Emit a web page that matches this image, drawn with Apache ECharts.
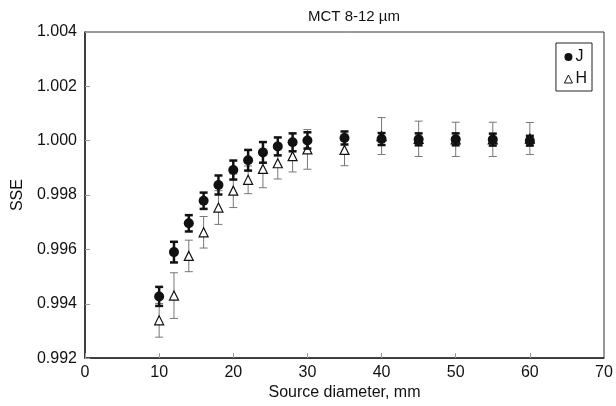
<!DOCTYPE html>
<html>
<head>
<meta charset="utf-8">
<script src="https://cdn.jsdelivr.net/npm/echarts@6/dist/echarts.min.js"></script>
<style>
html, body { margin: 0; padding: 0; background: #fff; }
#chart { width: 616px; height: 406px; }
</style>
</head>
<body>
<div id="chart"></div>
<script>
// source diameters, mm
var diameters = [10, 12, 14, 16, 18, 20, 22, 24, 26, 28, 30, 35, 40, 45, 50, 55, 60];
// J points and their errors
var sseJ = [0.99427, 0.99590, 0.99696, 0.99779, 0.99837, 0.99892, 0.99928, 0.99957, 0.99979, 0.99994, 1.00001,
            1.00010, 1.00006, 1.00005, 1.00005, 1.00004, 1.00000];
var errJ = [0.00035, 0.00038, 0.00030, 0.00030, 0.00035, 0.00035, 0.00038, 0.00038, 0.00033, 0.00033, 0.00030,
            0.00024, 0.00022, 0.00022, 0.00022, 0.00022, 0.00018];
// H points and their errors
var sseH = [0.99339, 0.99430, 0.99576, 0.99663, 0.99754, 0.99816, 0.99856, 0.99896, 0.99917, 0.99943, 0.99968,
            0.99966, 1.00017, 1.00007, 1.00005, 1.00005, 1.00008];
var errH = [0.00062, 0.00084, 0.00058, 0.00058, 0.00062, 0.00062, 0.00051, 0.00069, 0.00058, 0.00058, 0.00073,
            0.00058, 0.00068, 0.00065, 0.00063, 0.00063, 0.00059];
var yTicks = [0.992, 0.994, 0.996, 0.998, 1.000, 1.002, 1.004];

function rows(ys, errs) {
  return diameters.map(function (d, i) { return [d, ys[i], errs[i]]; });
}

function errorBar(color, width, cap) {
  return function (params, api) {
    var x = api.value(0), y = api.value(1), e = api.value(2);
    var hi = api.coord([x, y + e]);
    var lo = api.coord([x, y - e]);
    var st = { stroke: color, lineWidth: width };
    return {
      type: 'group',
      children: [
        { type: 'line', shape: { x1: hi[0], y1: hi[1], x2: lo[0], y2: lo[1] }, style: st },
        { type: 'line', shape: { x1: hi[0] - cap, y1: hi[1], x2: hi[0] + cap, y2: hi[1] }, style: st },
        { type: 'line', shape: { x1: lo[0] - cap, y1: lo[1], x2: lo[0] + cap, y2: lo[1] }, style: st }
      ]
    };
  };
}

var chart = echarts.init(document.getElementById('chart'));
var font = 'Liberation Sans, Arial, sans-serif';
chart.setOption({
  animation: false,
  backgroundColor: '#fff',
  textStyle: { fontFamily: font },
  title: {
    text: 'MCT 8-12 µm',
    left: 303, top: 4,
    textStyle: { fontSize: 15, fontWeight: 'normal', color: '#111', fontFamily: font }
  },
  legend: {
    orient: 'vertical',
    right: 24, top: 43,
    borderColor: '#222', borderWidth: 1,
    padding: [6, 5, 4, 8],
    itemGap: 6,
    itemWidth: 8, itemHeight: 8,
    textStyle: { fontSize: 16, color: '#111', fontFamily: font, padding: [0, 0, 0, -2] },
    data: [
      { name: 'J', icon: 'circle', itemStyle: { color: '#111' } },
      { name: 'H', icon: 'triangle', itemStyle: { color: '#fff', borderColor: '#111', borderWidth: 1 } }
    ]
  },
  grid: {
    left: 85, right: 12, top: 32, bottom: 44,
    show: true, borderColor: '#333', borderWidth: 1
  },
  xAxis: {
    type: 'value', min: 0, max: 70, interval: 10,
    name: 'Source diameter, mm', nameLocation: 'middle', nameGap: 26,
    nameTextStyle: { fontSize: 16, color: '#111', fontFamily: font },
    axisLine: { lineStyle: { color: '#222', width: 1.5 } },
    axisTick: { inside: true, length: 5, lineStyle: { color: '#999' } },
    axisLabel: { fontSize: 16, color: '#111', margin: 6, fontFamily: font },
    splitLine: { show: false }
  },
  yAxis: {
    type: 'value', min: yTicks[0], max: yTicks[yTicks.length - 1], interval: 0.002,
    name: 'SSE', nameLocation: 'middle', nameGap: 57,
    nameTextStyle: { fontSize: 16, color: '#111', fontFamily: font },
    axisLine: { lineStyle: { color: '#222', width: 1.5 } },
    axisTick: { inside: true, length: 5, lineStyle: { color: '#999' } },
    axisLabel: {
      fontSize: 16, color: '#111', margin: 8, fontFamily: font,
      formatter: function (v) { return v.toFixed(3); }
    },
    splitLine: { show: false }
  },
  series: [
    {
      name: 'H err', type: 'custom', data: rows(sseH, errH),
      renderItem: errorBar('#777', 1, 4), z: 2, silent: true
    },
    {
      name: 'H', type: 'scatter', data: rows(sseH, errH),
      symbol: 'triangle', symbolSize: 9,
      itemStyle: { color: '#fff', borderColor: '#111', borderWidth: 1.2, opacity: 1 }, z: 3
    },
    {
      name: 'J err', type: 'custom', data: rows(sseJ, errJ),
      renderItem: errorBar('#111', 2.5, 4), z: 4, silent: true
    },
    {
      name: 'J', type: 'scatter', data: rows(sseJ, errJ),
      symbol: 'circle', symbolSize: 10,
      itemStyle: { color: '#111', opacity: 1 }, z: 5
    }
  ]
});
</script>
</body>
</html>
